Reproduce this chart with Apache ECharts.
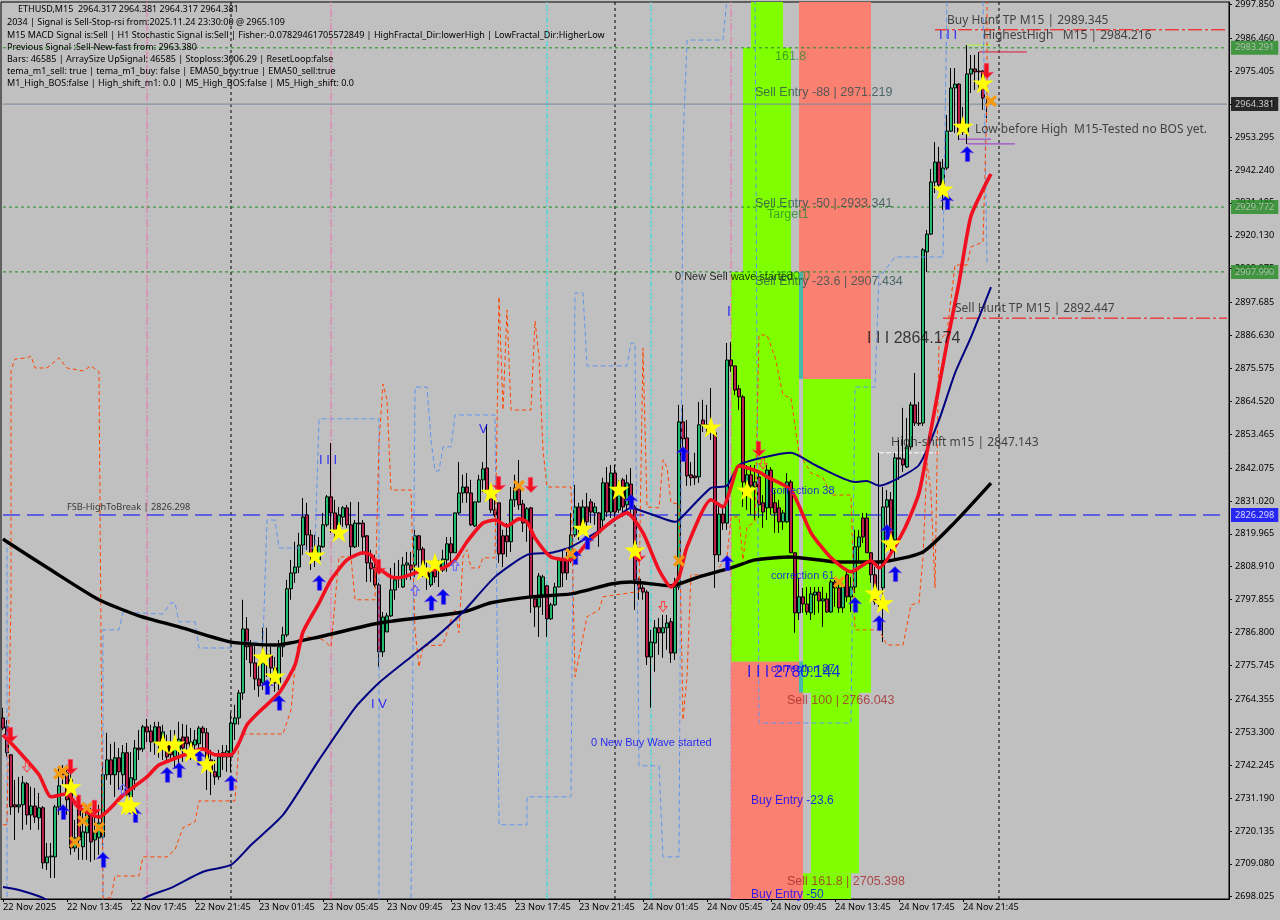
<!DOCTYPE html>
<html><head><meta charset="utf-8">
<style>html,body{margin:0;padding:0;background:#C0C0C0}#c{width:1280px;height:920px}</style>
<script src="https://cdn.jsdelivr.net/npm/echarts@6/dist/echarts.min.js"></script>
</head><body><div id="c"></div>
<script>
const barOpen=[2758.1,2755.1,2745.7,2728.9,2728.2,2728.9,2736,2725.5,2728.5,2724.5,
2727.9,2709.4,2711.4,2711.4,2728.2,2740.6,2739.6,2737.3,2714.4,2727.9,
2714.8,2719.5,2726.2,2717.1,2717.8,2718.1,2739,2744,2739,2744.7,
2739,2746.4,2731.6,2737.3,2748,2747.7,2755.1,2753.7,2750,2755.1,
2749,2749.4,2750,2745,2747.4,2751.7,2751.7,2746.4,2749,2749.4,
2754.7,2753.1,2744,2740,2738.3,2746.4,2745,2745,2756.1,2758.1,
2766.5,2788,2782.3,2776.6,2771.2,2769.9,2779.3,2779,2774.9,2769.9,
2782,2786,2801.5,2806.8,2808.8,2816.2,2826.3,2819.6,2812.9,2811.2,
2815.6,2823,2832.4,2827,2823,2825.6,2828.7,2823,2815.6,2823.6,
2823.6,2819.3,2810.2,2808.8,2802.8,2780.3,2787,2792.4,2801.1,2805.5,
2802.1,2809.5,2809.5,2809.5,2819.3,2814.9,2808.2,2802.8,2810.2,2807.8,
2807.8,2811.2,2816.6,2813.6,2827,2833.7,2835.7,2833.7,2822.6,2830.7,
2838.1,2842.1,2833.7,2828,2830.4,2819.3,2819.3,2817.3,2831.4,2835.1,
2830,2823.6,2828.7,2798.1,2795.4,2798.8,2802.5,2791.4,2796.1,2802.1,
2811.2,2811.2,2811.2,2819.6,2829,2822.3,2829,2830.7,2827,2827,
2824.6,2837.1,2827.3,2840.4,2828,2838.1,2829.7,2836.7,2829,2804.8,
2801.8,2800.4,2778.6,2783.3,2788.4,2786.7,2788.4,2790.4,2779.9,2802.1,
2857.6,2852.2,2839.8,2839.4,2839.1,2858.2,2856.6,2856.6,2853.9,2812.9,
2826.6,2823.6,2878.4,2876.4,2868.7,2866,2834.1,2839.8,2835.7,2839.1,
2830.4,2828.7,2841.4,2830.4,2828.7,2824,2824,2837.4,2813.6,2793.4,
2798.8,2796.4,2793.4,2799.4,2800.4,2797.4,2798.1,2793.7,2803.8,2801.8,
2795.1,2806.2,2798.8,2802.1,2815.6,2825.3,2825.3,2813.6,2806.2,2797.8,
2801.8,2829,2831.4,2817.9,2845.5,2845.1,2842.4,2849.2,2863.3,2857.2,
2857.2,2914.7,2920.7,2938.2,2944.9,2936.5,2942.9,2955.3,2969.8,2971.1,
2956.7,2955,2974.5,2976.2,2975.5,2975.5,2964.4];
const barClose=[2754.7,2746.4,2728.2,2728.2,2728.9,2736.3,2725.5,2728.5,2724.8,2727.9,
2709.4,2711.4,2711.7,2728.2,2735.3,2739,2730.6,2714.4,2717.8,2717.1,
2719.8,2726.2,2716.4,2719.5,2722.8,2739,2744,2739,2744.7,2740,
2746.4,2732.2,2738,2748,2747.4,2755.1,2753.4,2750,2755.1,2750,
2753.4,2745,2745.7,2750.7,2751,2748,2749.4,2750,2750.7,2754.7,
2753.1,2744,2740.6,2738.3,2745,2745,2747,2756.4,2758.1,2766.5,
2788,2782,2776.6,2771.2,2768.9,2776.6,2778.6,2774.9,2769.9,2782,
2786,2801.5,2806.8,2808.8,2816.2,2825.6,2819.6,2812.9,2814.6,2815.9,
2823,2832.4,2827,2821.3,2826.3,2828.7,2823,2815.6,2823.6,2823.3,
2818.9,2810.2,2808.2,2802.8,2780.3,2792,2792.4,2801.1,2804.5,2805.2,
2809.5,2810.2,2807.8,2819.3,2814.6,2806.8,2805.5,2807.2,2805.5,2810.2,
2811.5,2816.6,2813.6,2827,2833.7,2835.7,2833.7,2823,2830.7,2838.1,
2841.8,2833.7,2828,2826.3,2813.2,2813.2,2817.3,2831.4,2835.4,2829.7,
2823.6,2828.4,2798.4,2795.4,2805.8,2805.5,2791.4,2796.1,2802.1,2811.2,
2806.8,2806.8,2819.6,2829,2822.3,2829,2824,2827.3,2829,2820.3,
2837.1,2827.3,2840.4,2827.3,2836.4,2829,2837.1,2829,2804.5,2801.5,
2800.4,2778.6,2783.6,2788.4,2786.7,2788.4,2790,2779.9,2802.1,2857.6,
2851.9,2839.4,2838.8,2838.8,2856.6,2856.6,2855.6,2854.9,2812.9,2826.6,
2823.6,2878.4,2876.4,2868.3,2866,2837.4,2839.8,2836.1,2837.4,2829.7,
2827.3,2841.4,2828.7,2827,2824,2827,2837.4,2813.6,2793.4,2798.8,
2796.4,2793.7,2799.8,2800.4,2797.4,2798.1,2793.7,2803.8,2801.8,2795.1,
2802.1,2798.8,2802.1,2815.6,2818.9,2818.9,2813.6,2806.2,2797.1,2796.8,
2829,2831.4,2817.9,2845.5,2845.1,2843.1,2849.2,2863.3,2857.2,2856.9,
2915.4,2920.7,2938.2,2944.9,2937.2,2942.9,2955.3,2969.8,2971.1,2955,
2955,2974.5,2976.2,2975.2,2975.2,2966.4,2964.381];
const barLow=[2754,2745,2725.5,2717.1,2726.2,2720.5,2722.2,2720.5,2722.8,2720.5,
2707.4,2707,2704.3,2704.3,2725.5,2735.6,2725.5,2712.1,2713.1,2710.4,
2710.4,2710.4,2709.7,2710.4,2712.1,2715.4,2737.3,2735.6,2731.6,2733.9,
2733.9,2727.2,2728.9,2733.9,2744,2746.7,2750,2746.7,2745.7,2744.7,
2744,2743,2744,2741.3,2742.3,2743.3,2744,2744,2745.7,2745.7,
2747.4,2733.9,2732.2,2735.6,2737.3,2740.6,2740,2740,2750.7,2755.8,
2764.2,2777.6,2771.9,2767.5,2765.2,2767.5,2771.9,2769.9,2766.9,2767.5,
2778.6,2785.3,2797.8,2803.5,2806.8,2812.9,2814.6,2807.8,2808.8,2810.2,
2815.2,2822.3,2820.3,2817.9,2820.3,2822.3,2822,2812.2,2815.2,2815.6,
2812.9,2803.8,2803.8,2802.1,2775.2,2778.6,2787,2792,2797.8,2801.8,
2801.8,2804.5,2804.5,2805.5,2807.8,2805.5,2801.1,2802.1,2803.5,2802.1,
2807.2,2807.2,2810.5,2813.6,2826.3,2830.4,2830.4,2822.6,2822.3,2830.4,
2834,2833.7,2827,2825.6,2810.2,2808.8,2812.2,2813.9,2829,2828,
2820.6,2817.3,2793.4,2788.7,2785.3,2792.7,2785.3,2791,2795.7,2802.1,
2802.1,2804.5,2810.2,2818.9,2817.9,2820.3,2817.9,2823.6,2823,2815.6,
2821.3,2825.6,2825.3,2825.6,2827,2825.6,2828,2827,2794.4,2797.8,
2797.8,2775.9,2761.5,2773.6,2779.3,2778.3,2781,2776.6,2777.6,2801.1,
2845.5,2836.1,2836.1,2836.4,2837.1,2854.2,2853.2,2851.5,2801.8,2810.5,
2821.3,2821.3,2874.4,2866.6,2861.6,2829,2828,2826.3,2824.6,2825.3,
2822,2824.6,2826.3,2820.3,2820.3,2821.3,2823.6,2813.6,2786.7,2791,
2793.4,2792.7,2791,2792.7,2793.4,2788.7,2793.4,2793.4,2795.4,2793.4,
2793.4,2797.1,2793.7,2800.1,2810.5,2816.9,2813.6,2803.5,2796.1,2795.4,
2783.6,2815.2,2813.9,2811.2,2838.1,2840.8,2842.1,2848.2,2856.2,2856.2,
2856.2,2908,2920.4,2934.5,2936.5,2928.8,2942.2,2955,2954.7,2952.3,
2954,2951,2968.1,2969.1,2969.1,2962.4,2959.7];
const barHigh=[2761.5,2757.4,2746,2737.3,2738.3,2738.6,2736.6,2735,2734.6,2732.9,
2728.5,2716.1,2716.1,2728.9,2741.6,2742.3,2742.3,2742.3,2723.8,2732.2,
2726.5,2728.9,2727.9,2725.5,2728.9,2743.3,2753.1,2749.4,2750,2748,
2749,2749.7,2746.7,2750.7,2754,2755.8,2757.8,2755.8,2756.8,2756.8,
2755.8,2752.4,2754,2754,2756.8,2756.1,2755.8,2754.7,2754,2755.4,
2755.4,2754.7,2747.4,2744,2747.4,2749,2749,2759.8,2762.5,2767.5,
2797.8,2792,2784.3,2783.3,2776.6,2788.4,2788.4,2782,2778.6,2784.3,
2788.7,2804.5,2811.2,2817.3,2820.3,2832,2830.4,2821.3,2819.6,2818.9,
2827,2833,2850.5,2831.4,2829,2829.3,2829.7,2830.7,2824.6,2830.7,
2824.6,2819.6,2814.6,2812.9,2803.5,2793.7,2793.4,2808.5,2810.2,2811.2,
2812.2,2813.9,2813.9,2821.3,2819.6,2815.6,2810.2,2808.8,2812.2,2811.2,
2814.6,2818.9,2818.9,2827,2844.1,2839.8,2840.4,2838.1,2830.7,2839.8,
2844.1,2856.6,2835.4,2834.7,2830.4,2821.3,2823.6,2835.7,2839.8,2844.8,
2831.4,2829,2829,2799.1,2806.8,2806.2,2802.8,2796.8,2803.5,2812.2,
2814.6,2813.9,2827,2836.4,2830.4,2831.4,2833.7,2831.7,2830.4,2827.3,
2838.8,2842.4,2843.1,2843.1,2838.1,2838.8,2839.8,2842.1,2829.7,2805.2,
2802.8,2801.1,2787.7,2791,2791.7,2792.7,2792.7,2791.7,2805.2,2863.3,
2863.3,2858.2,2844.1,2847.2,2864.3,2865,2863.3,2869,2856.6,2829.7,
2829.7,2884.1,2884.4,2876.4,2870,2866.6,2843.1,2843.1,2843.1,2841.4,
2833,2843.1,2842.4,2834.7,2831.4,2828,2840.4,2838.1,2813.6,2805.2,
2801.8,2802.1,2802.1,2802.1,2802.1,2802.1,2800.1,2804.5,2804.5,2803.5,
2803.5,2807.2,2805.5,2821.3,2821.3,2827,2827,2813.9,2808.8,2847.2,
2835.7,2834.7,2834,2847.2,2851.5,2862.3,2858.9,2864.3,2874,2864.3,
2916,2922.1,2942.6,2951.6,2950,2945.9,2960.7,2976.5,2976.5,2971.4,
2963.4,2984.2,2980.9,2980.9,2981.9,2975.8,2966.4];
const ema200=[[0,2818.3],[1,2817.3],[12,2807.8],[24,2797.8],[34,2792.4],[44,2788.7],[57,2783.6],[68,2782.6],[79,2785.3],[94,2790],[115,2793.7],[122,2796.8],[132,2798.8],[142,2799.8],[152,2803.1],[157,2803.8],[167,2802.5],[174,2805.5],[182,2808.5],[188,2811.2],[197,2812.2],[209,2810.5],[219,2810.5],[230,2813.9],[238,2823.9],[247,2837]];
const ema50=[[0,2701.3],[4,2700.3],[10,2697.6],[20,2690],[30,2688],[35,2697.3],[42,2701],[50,2706.4],[57,2708.7],[62,2715.4],[70,2725.5],[79,2744],[88,2761.5],[94,2769.9],[102,2778.6],[108,2785],[115,2793.7],[123,2805.5],[131,2812.9],[137,2813.6],[142,2815.6],[152,2823.6],[157,2828.7],[159,2828],[164,2825.6],[168,2824],[169,2824.6],[177,2835.4],[181,2836.1],[184,2843.1],[192,2846.2],[197,2847.2],[203,2843.1],[213,2837.4],[216,2837.7],[219,2836.1],[222,2837.4],[229,2843.1],[234,2858.2],[238,2874],[242,2886.1],[247,2902.9]];
const temaRed=[[0,2752.4],[2,2749.7],[9,2739],[12,2731.6],[16,2732.6],[19,2727.9],[24,2724.8],[30,2732.2],[36,2738.3],[39,2742.3],[48,2747],[50,2747.7],[53,2745.7],[57,2745.7],[59,2749.7],[61,2755.8],[64,2760.1],[69,2766.5],[73,2775.9],[75,2787],[79,2796.7],[82,2804.5],[86,2811.2],[90,2813.6],[92,2812.9],[94,2808.5],[97,2805.5],[99,2805.2],[104,2807.2],[110,2808.5],[113,2811.2],[116,2817.3],[120,2823.6],[123,2824.6],[126,2822.6],[129,2825],[131,2824],[133,2818.6],[137,2812.2],[142,2811.2],[146,2816.9],[152,2824],[156,2827],[160,2820.3],[164,2807.8],[167,2802.1],[169,2805.5],[171,2815.6],[177,2831.4],[180,2829],[182,2835.7],[184,2842.8],[189,2840.8],[191,2839.1],[197,2834.7],[202,2820.3],[207,2811.9],[212,2807.2],[217,2810.9],[219,2808.5],[225,2820.6],[229,2833.7],[232,2854.9],[236,2884.1],[239,2904.3],[242,2926.8],[247,2940.9]];
const blueBand=[[1,2818],[1,2695],[25,2695],[25,2787.7],[29,2787.7],[30,2793.7],[40,2793],[42,2796.8],[43,2796.8],[44,2790.4],[48,2790.4],[49,2781.6],[57,2781.6],[57,2783.6],[65,2783.6],[66,2824.6],[68,2824.6],[69,2815.2],[78,2815.2],[79,2858.6],[93,2858.6],[94,2858.6],[94,2695],[102,2695],[103,2869.3],[106,2869.3],[107,2851.5],[108,2841.1],[109,2841.1],[110,2849.2],[112,2849.2],[113,2859.9],[123,2859.9],[124,2722.2],[131,2722.2],[131,2731.6],[142,2731.6],[143,2900.9],[145,2900.9],[146,2876.4],[156,2876.4],[157,2884.1],[158,2884.1],[159,2742],[164,2742],[165,2711.4],[169,2711.4],[170,2951.3],[171,2985.9],[180,2985.9],[181,3000],[188,3000],[189,2756.4],[190,2756.4],[212,2756.4],[213,2869.3],[218,2869.3],[219,2907.6],[220,2907.6],[223,2913],[235,2913],[236,3000],[245,3000],[246,2911.3]];
const orangeBand=[[0,2722.2],[1,2722.2],[2,2797.8],[2,2875],[3,2878.7],[6,2879.1],[7,2879.7],[8,2875.7],[11,2875.7],[14,2879.1],[16,2875.7],[20,2874.7],[22,2876.4],[24,2874.4],[25,2697.6],[27,2697.6],[28,2705],[34,2705],[35,2711.4],[41,2711.4],[43,2713.8],[45,2721.2],[48,2723.2],[49,2730.2],[58,2730.2],[59,2749.7],[60,2752.7],[70,2752.7],[72,2760.8],[73,2775.2],[74,2785.3],[78,2785.3],[80,2784.3],[82,2782],[84,2812.2],[87,2812.2],[88,2797.8],[93,2797.8],[94,2850.5],[95,2870.3],[96,2865],[97,2834.7],[102,2834.7],[103,2787.7],[104,2775.2],[105,2782.3],[110,2782.6],[112,2791],[113,2794.4],[114,2786.7],[115,2812.2],[116,2814.6],[117,2808.5],[119,2808.5],[120,2811.9],[123,2811.9],[124,2899.6],[125,2861.6],[126,2895.2],[127,2861.6],[132,2861.6],[133,2891.5],[134,2879.4],[135,2848.2],[136,2835.7],[142,2835.7],[143,2771.9],[146,2792.1],[149,2794.4],[150,2798.8],[158,2800.4],[159,2800.4],[160,2882.4],[161,2829],[164,2828.7],[165,2844.8],[166,2842.4],[167,2830.4],[169,2830],[170,2757.4],[171,2771.9],[172,2806.2],[177,2806.2],[178,2806.8],[181,2812.2],[182,2825.6],[184,2825.6],[185,2811.2],[186,2822.3],[188,2824],[189,2886.8],[191,2886.8],[193,2879.4],[195,2866.6],[197,2865.6],[199,2847.2],[202,2840.4],[205,2838.8],[207,2833],[212,2833],[213,2787.7],[219,2787.7],[221,2782.6],[225,2782.6],[227,2796.1],[229,2796.8],[230,2812.2],[231,2843.8],[232,2833.7],[233,2801.8],[234,2885.1],[236,2887.5],[238,2910.3],[241,2910.3],[242,2916.4],[245,2918],[246,2965.8],[246,3000]];
const starMarks=[[17,2735],[31,2728.9],[32,2728.9],[40,2749.4],[43,2749.4],[47,2746.7],[51,2742.7],[65,2778.6],[68,2772.2],[78,2812.9],[84,2820.6],[105,2807.8],[108,2810.2],[122,2834],[145,2821.9],[154,2835],[158,2814.6],[177,2855.9],[186,2834.7],[218,2800.1],[220,2796.8],[222,2816.9],[235,2935.9],[240,2957],[245,2971.5]];
const buyArrows=[[15,2726.5],[33,2725.5],[25,2710.4],[41,2739],[44,2740.6],[49,2744.7],[57,2736.3],[66,2768.5],[69,2763.2],[79,2803.5],[107,2796.8],[110,2798.8],[143,2812.2],[146,2817.3],[157,2830.7],[170,2846.8],[181,2810.2],[213,2796.1],[219,2790],[221,2820.6],[223,2806.5],[236,2931.5],[241,2947.6]];
const sellArrows=[[2,2752.4],[17,2741.6],[19,2729.6],[23,2727.9],[94,2808.8],[124,2836.7],[132,2836.4],[159,2812.9],[189,2848.5],[246,2975.5]];
const crossMarks=[[14,2739.3],[15,2740.3],[21,2727.9],[20,2723.5],[18,2716.4],[24,2721.2],[129,2836.1],[142,2813.2],[169,2810.9],[209,2803.8],[247,2965.4]];
const hollowUp=[[30,2734.2],[103,2801],[113,2809.4]];
const hollowDown=[[6,2741.6],[165,2795.5],[190,2843.5]];
const priceTicks=[2997.85,2986.46,2975.405,2964.35,2953.295,2942.24,2931.185,2920.13,2909.075,2897.685,2886.63,2875.575,2864.52,2853.465,2842.075,2831.02,2819.965,2808.91,2797.855,2786.8,2775.745,2764.355,2753.3,2742.245,2731.19,2720.135,2709.08,2698.025];
const timeLabels=['22 Nov 2025','22 Nov 13:45','22 Nov 17:45','22 Nov 21:45','23 Nov 01:45','23 Nov 05:45','23 Nov 09:45','23 Nov 13:45','23 Nov 17:45','23 Nov 21:45','24 Nov 01:45','24 Nov 05:45','24 Nov 09:45','24 Nov 13:45','24 Nov 17:45','24 Nov 21:45'];
const commentLines=['ETHUSD,M15  2964.317 2964.381 2964.317 2964.381','2034 | Signal is Sell-Stop-rsi from:2025.11.24 23:30:00 @ 2965.109','M15 MACD Signal is:Sell | H1 Stochastic Signal is:Sell | Fisher:-0.07829461705572849 | HighFractal_Dir:lowerHigh | LowFractal_Dir:HigherLow','Previous Signal :Sell-New-fast from: 2963.380','Bars: 46585 | ArraySize UpSignal: 46585 | Stoploss:3006.29 | ResetLoop:false','tema_m1_sell: true | tema_m1_buy: false | EMA50_buy:true | EMA50_sell:true','M1_High_BOS:false | High_shift_m1: 0.0 | M5_High_BOS:false | M5_High_shift: 0.0'];
const MINP=2697.25, MAXP=2998.69, SLOTS=307;
const GREEN='#7FFF00', SALMON='#FA8072', TEAL='#48B8A8';
const zones=[[187,195,2983.291,MAXP,GREEN],[185,197,2907.99,2983.291,GREEN],[182,199,2777,2907.99,GREEN],[199,217,2907.99,MAXP,SALMON],[200,217,2872,2907.99,SALMON],[199,200,2872,2907.99,TEAL],[200,217,2766.6,2872,GREEN],[182,200,MINP,2777,SALMON],[199,200,2766.6,2777,TEAL],[202,214,2705.9,2766.6,GREEN],[200,212,MINP,2705.9,GREEN]];
const hLines=[[2983.291,0,306,'#1E8C1E',[3,3],1],[2929.772,0,306,'#1E8C1E',[3,3],1],[2907.99,0,306,'#1E8C1E',[3,3],1],[2964.381,0,306,'#778899','solid',1],[2826.298,0,306,'#0000FF',[17,7],1.2],[2989.345,233,306,'#FF0000',[14,3,3,3],1],[2892.447,235,306,'#FF0000',[14,3,3,3],1],[2847.2,219,234,'#FFFFFF',[5,2],1],[2981.9,244,256,'#DC143C','solid',1],[2984.216,241,247,'#ADFF2F','solid',1],[2951,241,253,'#9932CC','solid',1],[2952.6,239,247,'#9932CC','solid',1]];
const vLines=[[57,'#000',[3,3]],[153,'#000',[3,3]],[249,'#000',[3,3]],[36,'#EE70B0',[8,2,2,2]],[82,'#EE70B0',[8,2,2,2]],[182,'#EE70B0',[8,2,2,2]],[136,'#20E0E0',[6,2,2,2]],[162,'#20E0E0',[6,2,2,2]]];
const priceTags=[[2983.291,'#228B22','#C8C8C8'],[2964.381,'#000000','#FFFFFF'],[2929.772,'#228B22','#C8C8C8'],[2907.99,'#228B22','#C8C8C8'],[2826.298,'#0000FF','#FFFFFF']];
const DK='#222', SL='#2F4F4F', GR='#2E8B2E', BR='#A52A2A', BL='#0000FF';
const FONT='"Noto Sans",sans-serif', ARIAL='"Liberation Sans",sans-serif';
const notes=[['Buy Hunt TP M15 | 2989.345',236,2992.6,DK,12,FONT],['HighestHigh   M15 | 2984.216',245,2987.3,DK,12,FONT],['161.8',193,2980.5,GR,12.5,ARIAL],['Sell Entry -88 | 2971.219',188,2968.4,SL,12.5,ARIAL],['Sell Entry -50 | 2933.341',188,2930.8,SL,12.5,ARIAL],['Target1',191,2927.1,GR,12.5,ARIAL],['100.0',194,2906.3,GR,12.5,ARIAL],['0 New Sell wave started',168,2906.3,'#000',11,ARIAL],['Sell Entry -23.6 | 2907.434',188,2904.6,SL,12.5,ARIAL],['I I I 2864.174',216,2885.5,'#111',16,ARIAL],['Sell Hunt TP M15 | 2892.447',238,2895.5,DK,12,FONT],['Low before High  M15-Tested no BOS yet.',243,2955.7,DK,12,FONT],['High-shift m15 | 2847.143',222,2850.8,DK,12,FONT],['correction 38',192,2834.4,BL,11,ARIAL],['correction 61',192,2805.8,BL,11,ARIAL],['correction 87',192,2774.6,BL,11,ARIAL],['I I I 2780.144',186,2773.2,BL,16,ARIAL],['Sell 100 | 2766.043',196,2763.8,BR,12.5,ARIAL],['Sell 161.8 | 2705.398',196,2703,BR,12.5,ARIAL],['0 New Buy Wave started',147,2749.7,BL,11,ARIAL],['Buy Entry -23.6',187,2730.2,BL,12,ARIAL],['Buy Entry -50',187,2698.6,BL,12,ARIAL],['FSB-HighToBreak | 2826.298',16,2828.7,'#111',9.2,FONT],['I I I',79,2844.8,BL,13,ARIAL],['I V',92,2762.8,BL,13,ARIAL],['V',119,2855.2,BL,13,ARIAL],['I',181,2894.5,BL,14,ARIAL],['I I I',234,2987.6,BL,13,ARIAL]];
const STAR='path://M50,0 L61,35 L98,35 L68,57 L79,91 L50,70 L21,91 L32,57 L2,35 L39,35 Z';
const ARROW='path://M5,0 L11,7 L7.5,6 L7.5,16 L3.5,16 L3.5,6 L-1,7 Z';
const CROSS='path://M0,2 L2,0 L5,3 L8,0 L10,2 L7,5 L10,8 L8,10 L5,7 L2,10 L0,8 L3,5 Z';
const HOLLOW='path://M5,0 L10,6 L7,6 L7,12 L3,12 L3,6 L0,6 Z';

function lineS(data,color,width,dash,z,smooth){return {type:'line',data,showSymbol:false,symbol:'none',silent:true,animation:false,z:z||3,smooth:smooth||false,lineStyle:{color,width,type:dash||'solid',cap:'butt',join:'round'}};}
function markS(data,symbol,size,color,rot,z,border,hollow){return {type:'scatter',data,symbol,symbolSize:size,symbolRotate:rot||0,silent:true,animation:false,z:z||6,clip:false,itemStyle:{color:hollow?'rgba(0,0,0,0)':color,borderColor:border||color,borderWidth:hollow?1:(border?0.6:0),opacity:1}};}

const categories=Array.from({length:SLOTS},(_,i)=>String(i));
const candles=barOpen.map((o,i)=>[o,barClose[i],barLow[i],barHigh[i]]);
const series=[];
series.push({type:'line',data:[],silent:true,z:1,markArea:{silent:true,z:1,animation:false,data:zones.map(z=>[{coord:[z[0],z[2]],itemStyle:{color:z[4],opacity:1}},{coord:[z[1],z[3]]}])}});
vLines.forEach(v=>series.push(lineS([[v[0],MINP],[v[0],MAXP]],v[1],1,v[2],2)));
series.push({type:'candlestick',data:candles,barWidth:3,z:2,silent:true,animation:false,itemStyle:{color:'#22BB6E',color0:'#B8204A',borderColor:'#000',borderColor0:'#000',borderColorDoji:'#000',borderWidth:1}});
hLines.forEach(h=>series.push(lineS([[h[1],h[0]],[h[2],h[0]]],h[3],h[5],h[4],2)));
series.push(lineS(blueBand,'#6495ED',1,[5,3],3));
series.push(lineS(orangeBand,'#FF4500',1,[4,3],3));
series.push(lineS(ema200,'#000',3.4,'solid',4,0.2));
series.push(lineS(ema50,'#000080',2,'solid',4,0.2));
series.push(lineS(temaRed,'#F01020',3.6,'solid',4,0.2));
series.push(markS(hollowUp,HOLLOW,[8,10],'#6060FF',0,5,'#6060FF',true));
series.push(markS(hollowDown,HOLLOW,[8,10],'#FF4040',180,5,'#FF4040',true));
series.push(markS(buyArrows,ARROW,[13,15],'#0000F0',0,6,'#6A40E0'));
series.push(markS(sellArrows,ARROW,[13,15],'#F01020',180,6,'#FF4060'));
series.push(markS(crossMarks,CROSS,[12,12],'#F59A10',0,6));
series.push(markS(starMarks,STAR,[21,21],'#FFFF00',0,7));
series.push({type:'scatter',symbolSize:0,silent:true,animation:false,z:8,clip:false,
  data:notes.map(n=>({value:[n[1],n[2]],label:{show:true,position:'right',distance:0,formatter:n[0],color:n[3],fontSize:n[4],fontFamily:n[5]}}))});
series.push({type:'scatter',symbolSize:0,silent:true,animation:false,z:9,clip:false,
  data:priceTags.map(t=>({value:[306,t[0]],label:{show:true,position:'right',distance:4,formatter:t[0].toFixed(3),color:t[2],backgroundColor:t[1],fontSize:9.2,fontFamily:FONT,lineHeight:14,padding:[0,4,0,4]}}))});

const chart=echarts.init(document.getElementById('c'),null,{renderer:'canvas'});
chart.setOption({
  backgroundColor:'#C0C0C0',animation:false,
  grid:{left:1,top:2,width:1228,height:897,show:true,borderColor:'#000',borderWidth:1,backgroundColor:'#C0C0C0'},
  xAxis:{type:'category',data:categories,boundaryGap:true,
    axisLine:{show:true,lineStyle:{color:'#000',width:1}},
    axisTick:{show:true,alignWithLabel:true,length:3,lineStyle:{color:'#000'},interval:(i)=>i%16===0&&i<=240},
    axisLabel:{show:true,interval:15,align:'left',margin:4,color:'#000',fontSize:9.2,fontFamily:FONT,formatter:(v,i)=>timeLabels[i/16]||''},
    splitLine:{show:false}},
  yAxis:{type:'value',position:'right',min:MINP,max:MAXP,scale:true,
    axisLine:{show:true,onZero:false,lineStyle:{color:'#000',width:1}},
    axisTick:{show:true,length:3,lineStyle:{color:'#000'},customValues:priceTicks},
    axisLabel:{show:true,margin:6,color:'#000',fontSize:9.2,fontFamily:FONT,customValues:priceTicks,formatter:v=>v.toFixed(3)},
    splitLine:{show:false}},
  graphic:commentLines.map((t,i)=>({type:'text',z:100,silent:true,left:i===0?18:7,top:[5,18,31,43,55,67,79][i],style:{text:t,fill:'#000',font:'9px '+FONT}})),
  series
});
</script></body></html>
